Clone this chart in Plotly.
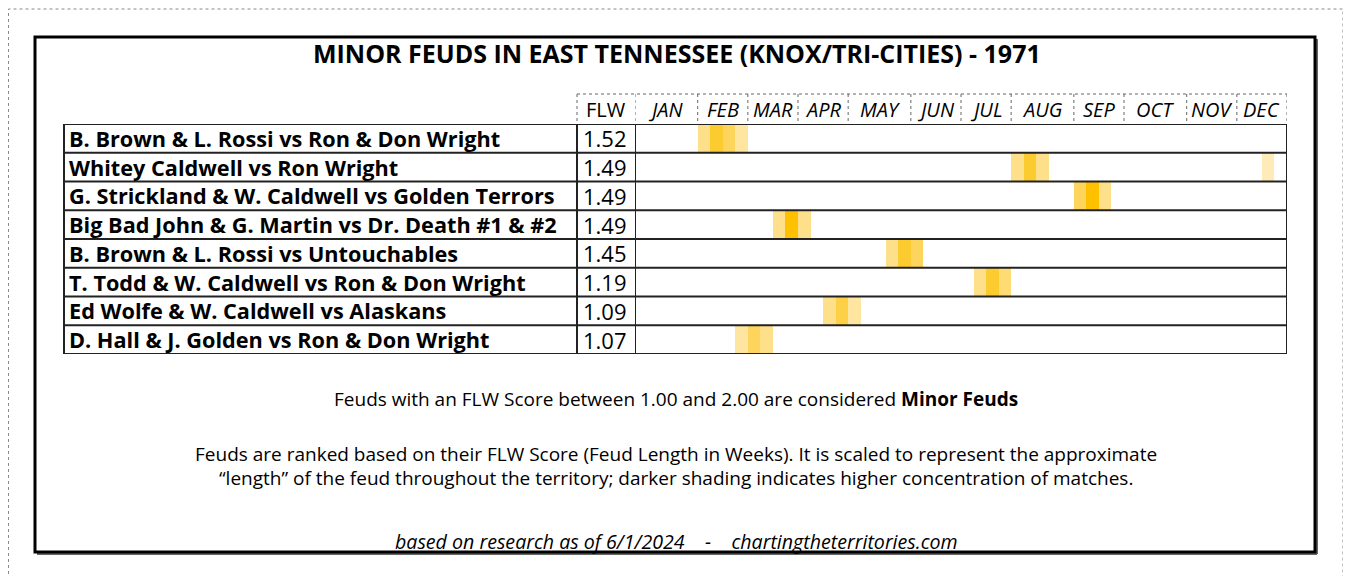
import plotly.graph_objects as go

W, H = 1351, 576
OFF = 8  # default page margin of the html body

title = "MINOR FEUDS IN EAST TENNESSEE (KNOX/TRI-CITIES) - 1971"
feuds = [
    "B. Brown & L. Rossi vs Ron & Don Wright",
    "Whitey Caldwell vs Ron Wright",
    "G. Strickland & W. Caldwell vs Golden Terrors",
    "Big Bad John & G. Martin vs Dr. Death #1 & #2",
    "B. Brown & L. Rossi vs Untouchables",
    "T. Todd & W. Caldwell vs Ron & Don Wright",
    "Ed Wolfe & W. Caldwell vs Alaskans",
    "D. Hall & J. Golden vs Ron & Don Wright",
]
flw = ["1.52", "1.49", "1.49", "1.49", "1.45", "1.19", "1.09", "1.07"]
months = ["JAN", "FEB", "MAR", "APR", "MAY", "JUN", "JUL", "AUG", "SEP", "OCT", "NOV", "DEC"]
weeks_per_month = [5, 4, 4, 4, 5, 4, 4, 5, 4, 5, 4, 4]
# week index (0-based) -> shading intensity (1 = light, 5 = dark)
activity = [
    {5: 2, 6: 4, 7: 3, 8: 1.5},
    {30: 2, 31: 4, 32: 2, 50: 1},
    {35: 3, 36: 5, 37: 2},
    {11: 2, 12: 5, 13: 2},
    {20: 2, 21: 4, 22: 3},
    {27: 2, 28: 4, 29: 2.5},
    {15: 2, 16: 3.5, 17: 1.5},
    {8: 1.5, 9: 3, 10: 2},
]

FONT = "Open Sans"

def px(x):
    return (x - OFF) / W

def py(y):
    return 1 - (y - OFF) / H

n_weeks = sum(weeks_per_month)
z = [[act.get(k) for k in range(n_weeks)] for act in activity]

fig = go.Figure()
fig.add_trace(go.Heatmap(
    x=[k + 0.5 for k in range(n_weeks)],
    y=list(range(len(feuds))),
    z=z,
    zmin=1, zmax=5,
    colorscale=[[0, "#FEEBB8"], [0.25, "#FEE08A"], [0.5, "#FDD55C"], [0.75, "#FCCB30"], [1, "#FFC000"]],
    showscale=False,
    hoverinfo="skip",
))

nrows = len(feuds)
cal_x0, cal_x1 = 635, 1287
tab_y0, tab_y1 = 124, 354
fig.update_layout(
    width=W, height=H,
    margin=dict(l=0, r=0, t=0, b=0),
    paper_bgcolor="white", plot_bgcolor="rgba(0,0,0,0)",
    xaxis=dict(domain=[px(cal_x0), px(cal_x1)], range=[0, n_weeks], visible=False, fixedrange=True),
    yaxis=dict(domain=[py(tab_y1), py(tab_y0)], range=[nrows - 0.5, -0.5], visible=False, fixedrange=True),
    showlegend=False,
)

shapes = []
# outer dotted frame
shapes.append(dict(type="rect", xref="paper", yref="paper", x0=px(8.5), x1=px(1343), y0=py(600), y1=py(9),
                   line=dict(color="#8a8a8a", width=1, dash="dot")))
# thick box with slight shadow
shapes.append(dict(type="line", xref="paper", yref="paper", x0=px(1317), x1=px(1317), y0=py(554), y1=py(39),
                   line=dict(color="#666", width=2)))
shapes.append(dict(type="line", xref="paper", yref="paper", x0=px(37), x1=px(1317), y0=py(554), y1=py(554),
                   line=dict(color="#666", width=2)))
shapes.append(dict(type="rect", xref="paper", yref="paper", x0=px(35), x1=px(1315), y0=py(552), y1=py(37),
                   line=dict(color="black", width=3)))
# row separators
for i in range(nrows + 1):
    shapes.append(dict(type="line", xref="paper", yref="y", x0=px(64), x1=px(1287), y0=i - 0.5, y1=i - 0.5,
                       line=dict(color="#222", width=2)))
# vertical table lines
for xp in [64, 577]:
    shapes.append(dict(type="line", xref="paper", yref="y", x0=px(xp), x1=px(xp), y0=-0.5, y1=nrows - 0.5,
                       line=dict(color="#222", width=2)))
for xv in [0, n_weeks]:
    shapes.append(dict(type="line", xref="x", yref="y", x0=xv, x1=xv, y0=-0.5, y1=nrows - 0.5,
                       line=dict(color="#222", width=2)))
# header dotted grid
hdr_top, hdr_bot = 94, 123
shapes.append(dict(type="line", xref="paper", yref="paper", x0=px(577), x1=px(1287), y0=py(hdr_top), y1=py(hdr_top),
                   line=dict(color="#666", width=1, dash="dot")))
shapes.append(dict(type="line", xref="paper", yref="paper", x0=px(577), x1=px(577), y0=py(hdr_top), y1=py(hdr_bot),
                   line=dict(color="#666", width=1, dash="dot")))
b = 0
bounds = [0]
for w in weeks_per_month:
    b += w
    bounds.append(b)
for bx in bounds:
    shapes.append(dict(type="line", xref="x", yref="paper", x0=bx, x1=bx, y0=py(hdr_top), y1=py(hdr_bot),
                       line=dict(color="#666", width=1, dash="dot")))

ann = []
ann.append(dict(text="<b>" + title + "</b>", xref="paper", yref="paper", x=px(677), y=py(53),
                showarrow=False, font=dict(family=FONT, size=25, color="black"), xanchor="center", yanchor="middle"))
ann.append(dict(text="FLW", xref="paper", yref="paper", x=px(606), y=py(109), showarrow=False,
                font=dict(family=FONT, size=20, color="black"), xanchor="center", yanchor="middle"))
for m, a0, a1 in zip(months, bounds[:-1], bounds[1:]):
    ann.append(dict(text="<i>" + m + "</i>", xref="x", yref="paper", x=(a0 + a1) / 2, y=py(109), showarrow=False,
                    font=dict(family=FONT, size=20, color="black"), xanchor="center", yanchor="middle"))
for i, (name, v) in enumerate(zip(feuds, flw)):
    ann.append(dict(text="<b>" + name + "</b>", xref="paper", yref="y", x=px(67), y=i, showarrow=False,
                    font=dict(family=FONT, size=21.7, color="black"), xanchor="left", yanchor="middle"))
    ann.append(dict(text=v, xref="paper", yref="y", x=px(605), y=i, showarrow=False,
                    font=dict(family=FONT, size=22, color="black"), xanchor="center", yanchor="middle"))

notes = [
    (399, "Feuds with an FLW Score between 1.00 and 2.00 are considered <b>Minor Feuds</b>", 19),
    (454, "Feuds are ranked based on their FLW Score (Feud Length in Weeks). It is scaled to represent the approximate", 19),
    (478, "\u201clength\u201d of the feud throughout the territory; darker shading indicates higher concentration of matches.", 19),
    (541, "<i>based on research as of 6/1/2024    -    chartingtheterritories.com</i>", 19.6),
]
for yy, t, sz in notes:
    ann.append(dict(text=t, xref="paper", yref="paper", x=px(676), y=py(yy), showarrow=False,
                    font=dict(family=FONT, size=sz, color="black"), xanchor="center", yanchor="middle"))

fig.update_layout(shapes=shapes, annotations=ann)
fig.write_html("out.html")
